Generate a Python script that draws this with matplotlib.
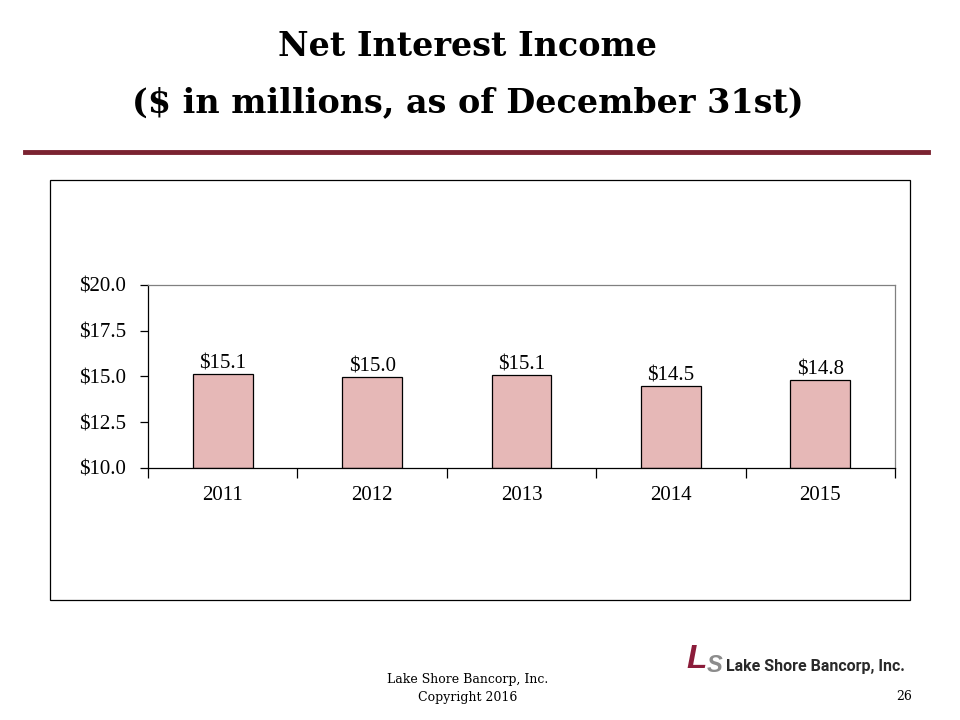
import matplotlib.pyplot as plt
from matplotlib.patches import Rectangle
from matplotlib.lines import Line2D

years = ['2011', '2012', '2013', '2014', '2015']
income = [15.12, 14.97, 15.07, 14.47, 14.79]
bar_labels = ['$15.1', '$15.0', '$15.1', '$14.5', '$14.8']
y_ticks = [10.0, 12.5, 15.0, 17.5, 20.0]

serif = 'Liberation Serif'

fig = plt.figure(figsize=(9.6, 7.2), dpi=100)

# title
fig.text(0.487, 1 - 47 / 720, 'Net Interest Income', ha='center', va='center',
         fontsize=24, fontweight='bold', family='DejaVu Serif')
fig.text(0.487, 1 - 103 / 720, '($ in millions, as of December 31st)', ha='center',
         va='center', fontsize=24, fontweight='bold', family='DejaVu Serif')

# maroon rule
fig.add_artist(Line2D([25 / 960, 928 / 960], [1 - 152 / 720] * 2, color='#7b2331', lw=3.5))

# outer chart frame
fig.add_artist(Rectangle((50 / 960, 1 - 600 / 720), 860 / 960, 420 / 720, fill=False,
                         edgecolor='black', lw=0.9))

ax = fig.add_axes([148 / 960, 1 - 468 / 720, 747 / 960, 183 / 720])
x = list(range(len(years)))
ax.bar(x, [v - 10 for v in income], bottom=10, width=0.4,
       color='#e6b8b7', edgecolor='black', linewidth=0.9)
for xi, v, lab in zip(x, income, bar_labels):
    ax.text(xi, v + 0.02, lab, ha='center', va='bottom', fontsize=15, family=serif)

ax.set_xlim(-0.5, len(years) - 0.5)
ax.set_ylim(10, 20)
ax.set_yticks(y_ticks)
ax.set_yticklabels(['$%.1f' % t for t in y_ticks], family=serif, fontsize=15)
ax.set_xticks(x)
ax.set_xticklabels(years, family=serif, fontsize=15)
ax.set_xticks([i - 0.5 for i in range(len(years) + 1)], minor=True)
ax.tick_params(axis='x', which='major', length=0, pad=13)
ax.tick_params(axis='x', which='minor', length=7, direction='out', width=0.9)
ax.tick_params(axis='y', length=6, direction='out', width=0.9, pad=10)
for s in ['top', 'right']:
    ax.spines[s].set_color('#808080')
    ax.spines[s].set_linewidth(0.9)
for s in ['left', 'bottom']:
    ax.spines[s].set_color('black')
    ax.spines[s].set_linewidth(0.9)

# footer
fig.text(468 / 960, 1 - 679 / 720, 'Lake Shore Bancorp, Inc.', ha='center', va='center',
         fontsize=9, family='DejaVu Serif')
fig.text(468 / 960, 1 - 697 / 720, 'Copyright 2016', ha='center', va='center',
         fontsize=9, family='DejaVu Serif')
fig.text(912 / 960, 1 - 697 / 720, '26', ha='right', va='center', fontsize=9,
         family='DejaVu Serif')

# logo
fig.text(686 / 960, 1 - 660 / 720, 'L', ha='left', va='center', fontsize=24,
         fontweight='bold', style='italic', color='#8b1c3a', family='Liberation Sans')
fig.text(707 / 960, 1 - 666 / 720, 'S', ha='left', va='center', fontsize=17,
         fontweight='bold', style='italic', color='#8c8c8c', family='Liberation Sans')
fig.text(726 / 960, 1 - 667 / 720, 'Lake Shore Bancorp, Inc.', ha='left', va='center',
         fontsize=11.5, fontweight='bold', color='#2a2a2a', family='Roboto')

fig.savefig('out.png', dpi=100)
